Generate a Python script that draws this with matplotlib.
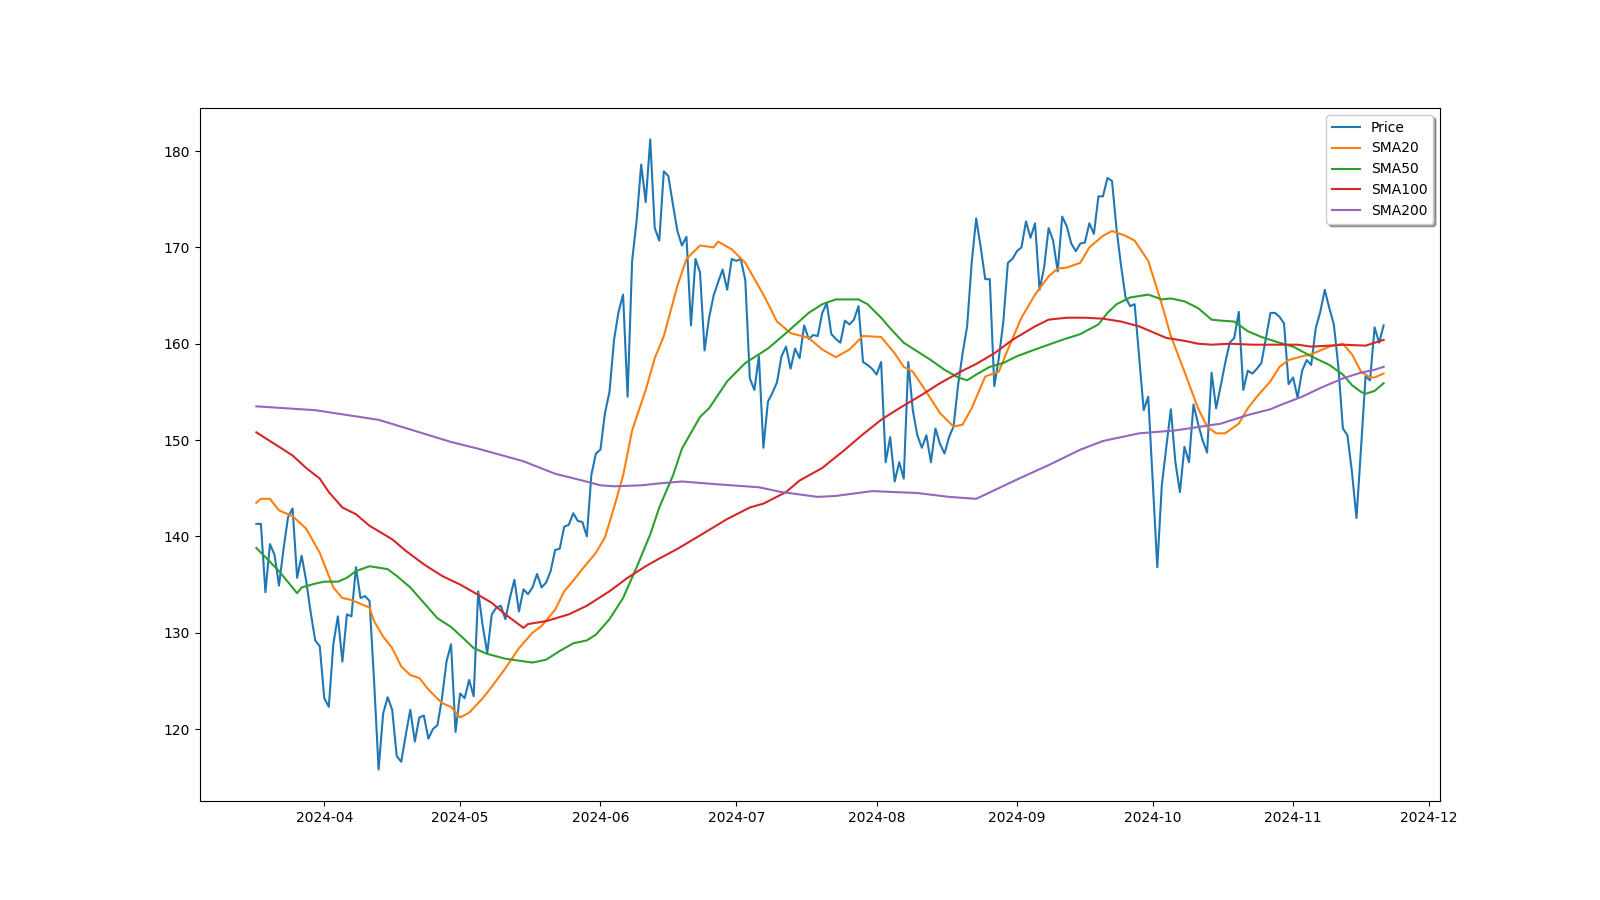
import matplotlib
matplotlib.use("Agg")
import matplotlib.pyplot as plt
import numpy as np
import pandas as pd

start_date = "2024-03-17"

price = [
    141.3, 141.3, 134.2, 139.2, 138.1, 134.9, 138.7, 142.0, 142.9, 135.7,
    138.0, 135.4, 132.1, 129.2, 128.6, 123.2, 122.3, 128.8, 131.7, 127.0,
    131.9, 131.7, 136.8, 133.6, 133.8, 133.3, 125.0, 115.8, 121.6, 123.3,
    122.0, 117.2, 116.6, 119.4, 122.0, 118.7, 121.2, 121.4, 119.0, 120.0,
    120.4, 123.2, 127.0, 128.8, 119.7, 123.7, 123.2, 125.1, 123.4, 134.3,
    130.7, 127.9, 131.9, 132.6, 132.8, 131.4, 133.6, 135.5, 132.2, 134.5,
    134.0, 134.7, 136.1, 134.7, 135.2, 136.4, 138.6, 138.7, 141.0, 141.2,
    142.4, 141.6, 141.5, 140.0, 146.4, 148.6, 149.0, 152.8, 155.0, 160.4,
    163.3, 165.1, 154.5, 168.6, 172.8, 178.6, 174.7, 181.2, 172.0, 170.7,
    177.9, 177.4, 174.5, 171.7, 170.2, 171.1, 161.9, 168.8, 167.4, 159.3,
    162.7, 165.0, 166.4, 167.7, 165.6, 168.8, 168.6, 168.8, 166.6, 156.4,
    155.2, 158.7, 149.2, 154.0, 154.9, 156.0, 158.7, 159.7, 157.4, 159.5,
    158.5, 161.9, 160.5, 160.9, 160.8, 163.2, 164.2, 161.0, 160.5, 160.1,
    162.4, 162.0, 162.5, 163.9, 158.1, 157.8, 157.4, 156.8, 158.1, 147.7,
    150.3, 145.7, 147.7, 146.0, 158.1, 153.1, 150.5, 149.2, 150.5, 147.7,
    151.2, 149.6, 148.6, 150.3, 151.4, 155.7, 159.0, 161.8, 168.4, 173.0,
    170.0, 166.7, 166.7, 155.6, 158.5, 162.3, 168.4, 168.8, 169.6, 170.0,
    172.7, 171.0, 172.5, 165.6, 167.9, 172.0, 170.7, 167.5, 173.2, 172.2,
    170.4, 169.6, 170.4, 170.5, 172.5, 171.4, 175.3, 175.3, 177.2, 176.9,
    171.9, 168.1, 164.8, 163.9, 164.1, 158.6, 153.1, 154.5, 145.6, 136.8,
    145.3, 149.3, 153.2, 147.7, 144.6, 149.3, 147.7, 153.7, 151.7, 150.0,
    148.7, 157.0, 153.3, 155.6, 158.0, 160.1, 160.6, 163.3, 155.2, 157.2,
    156.9, 157.4, 158.0, 160.6, 163.2, 163.2, 162.8, 162.1, 155.8, 156.5,
    154.4, 157.2, 158.3, 157.8, 161.6, 163.3, 165.6, 163.7, 162.0, 157.6,
    151.2, 150.5, 146.7, 141.9, 149.1, 156.6, 156.2, 161.7, 160.1, 161.9,
]

# SMA readings as (day offset from start date, value)
sma20_points = [
    (0, 143.5), (1, 143.9), (3, 143.9), (5, 142.7), (8, 142.1), (11, 140.8),
    (14, 138.3), (16, 135.9), (17, 134.7), (19, 133.6), (21, 133.4), (23, 133.0),
    (25, 132.6), (26, 131.2), (28, 129.6), (30, 128.4), (32, 126.5), (34, 125.6),
    (36, 125.3), (38, 124.1), (41, 122.7), (43, 122.3), (45, 121.2), (47, 121.7),
    (50, 123.2), (52, 124.4), (55, 126.3), (58, 128.4), (61, 130.0), (63, 130.7),
    (66, 132.4), (68, 134.3), (70, 135.4), (72, 136.6), (75, 138.3), (77, 139.9),
    (79, 143.0), (81, 146.3), (83, 151.0), (86, 155.2), (88, 158.5), (90, 160.8),
    (93, 166.0), (95, 168.8), (98, 170.2), (101, 170.0), (102, 170.6), (105, 169.8),
    (108, 168.4), (112, 165.1), (115, 162.3), (118, 161.1), (122, 160.6), (125, 159.4),
    (128, 158.6), (131, 159.4), (134, 160.8), (138, 160.7), (141, 159.0), (143, 157.6),
    (145, 157.1), (148, 155.0), (151, 152.8), (154, 151.4), (156, 151.6), (158, 153.3),
    (161, 156.6), (164, 157.1), (166, 159.4), (169, 162.7), (172, 165.1), (175, 167.0),
    (177, 167.8), (179, 167.9), (182, 168.4), (184, 170.0), (187, 171.2), (189, 171.7),
    (192, 171.2), (194, 170.7), (197, 168.6), (200, 164.1), (202, 160.8), (205, 157.1),
    (208, 153.3), (210, 151.4), (212, 150.7), (214, 150.7), (217, 151.7), (219, 153.3),
    (221, 154.5), (224, 156.1), (226, 157.6), (228, 158.3), (231, 158.7), (233, 158.9),
    (235, 159.3), (237, 159.7), (240, 160.0), (242, 158.9), (244, 157.1), (246, 156.5),
    (247, 156.5), (249, 156.9),
]

sma50_points = [
    (0, 138.8), (5, 136.4), (9, 134.1), (10, 134.7), (13, 135.1), (15, 135.3),
    (18, 135.3), (20, 135.7), (22, 136.4), (25, 136.9), (29, 136.6), (31, 135.9),
    (34, 134.7), (37, 133.1), (40, 131.5), (43, 130.6), (46, 129.3), (48, 128.4),
    (51, 127.8), (55, 127.3), (58, 127.1), (61, 126.9), (64, 127.2), (67, 128.1),
    (70, 128.9), (73, 129.2), (75, 129.8), (78, 131.4), (81, 133.6), (84, 136.8),
    (87, 140.2), (89, 143.0), (92, 146.3), (94, 149.1), (98, 152.4), (100, 153.3),
    (104, 156.1), (108, 158.0), (113, 159.5), (117, 161.1), (122, 163.2), (125, 164.1),
    (128, 164.6), (133, 164.6), (135, 164.1), (138, 162.7), (140, 161.6), (143, 160.1),
    (146, 159.2), (149, 158.3), (152, 157.3), (155, 156.5), (157, 156.2), (159, 156.8),
    (162, 157.6), (165, 158.0), (168, 158.7), (172, 159.4), (175, 159.9), (178, 160.4),
    (182, 161.0), (186, 162.0), (188, 163.2), (190, 164.1), (193, 164.8), (197, 165.1),
    (200, 164.6), (202, 164.7), (205, 164.4), (208, 163.7), (211, 162.5), (213, 162.4),
    (216, 162.3), (219, 161.3), (222, 160.7), (226, 160.1), (229, 159.7), (233, 158.7),
    (237, 157.8), (240, 156.8), (242, 155.7), (244, 155.0), (245, 154.8), (247, 155.1),
    (249, 155.9),
]

sma100_points = [
    (0, 150.8), (5, 149.3), (8, 148.4), (11, 147.1), (14, 146.0), (16, 144.6),
    (19, 143.0), (22, 142.3), (25, 141.1), (30, 139.7), (33, 138.5), (37, 137.1),
    (41, 135.9), (45, 135.0), (48, 134.2), (52, 133.1), (55, 131.9), (59, 130.5),
    (60, 130.9), (64, 131.2), (69, 131.9), (73, 132.8), (78, 134.3), (82, 135.7),
    (86, 136.9), (89, 137.7), (93, 138.7), (98, 140.1), (104, 141.8), (109, 143.0),
    (112, 143.4), (117, 144.6), (120, 145.8), (125, 147.1), (130, 149.0), (134, 150.6),
    (138, 152.1), (142, 153.3), (147, 154.7), (151, 155.9), (156, 157.2), (159, 157.9),
    (163, 159.0), (167, 160.4), (172, 161.8), (175, 162.5), (179, 162.7), (183, 162.7),
    (187, 162.6), (191, 162.3), (195, 161.8), (198, 161.2), (201, 160.6), (205, 160.3),
    (208, 160.0), (211, 159.9), (215, 160.0), (220, 159.9), (225, 159.9), (230, 159.9),
    (233, 159.7), (237, 159.8), (240, 159.9), (245, 159.8), (247, 160.1), (249, 160.4),
]

sma200_points = [
    (0, 153.5), (13, 153.1), (27, 152.1), (34, 151.1), (43, 149.8), (49, 149.1),
    (59, 147.8), (66, 146.5), (72, 145.8), (76, 145.3), (79, 145.2), (85, 145.3),
    (89, 145.5), (94, 145.7), (102, 145.4), (111, 145.1), (116, 144.6), (124, 144.1),
    (128, 144.2), (136, 144.7), (146, 144.5), (153, 144.1), (159, 143.9), (168, 145.9),
    (175, 147.4), (182, 149.0), (187, 149.9), (195, 150.7), (203, 151.0), (213, 151.7),
    (219, 152.6), (224, 153.2), (226, 153.6), (231, 154.5), (235, 155.4), (240, 156.4),
    (244, 157.0), (247, 157.3), (249, 157.6),
]

dates = pd.date_range(start_date, periods=len(price), freq="D")
base = pd.Timestamp(start_date)


def series(points):
    days = [d for d, _ in points]
    vals = [v for _, v in points]
    return base + pd.to_timedelta(days, unit="D"), vals


fig, ax = plt.subplots(figsize=(16, 9), dpi=100)
ax.plot(dates, price, label="Price")
for name, pts in [("SMA20", sma20_points), ("SMA50", sma50_points),
                  ("SMA100", sma100_points), ("SMA200", sma200_points)]:
    x, y = series(pts)
    ax.plot(x, y, label=name)
ax.legend(loc="upper right", shadow=True)
fig.savefig("out.png", dpi=100)
